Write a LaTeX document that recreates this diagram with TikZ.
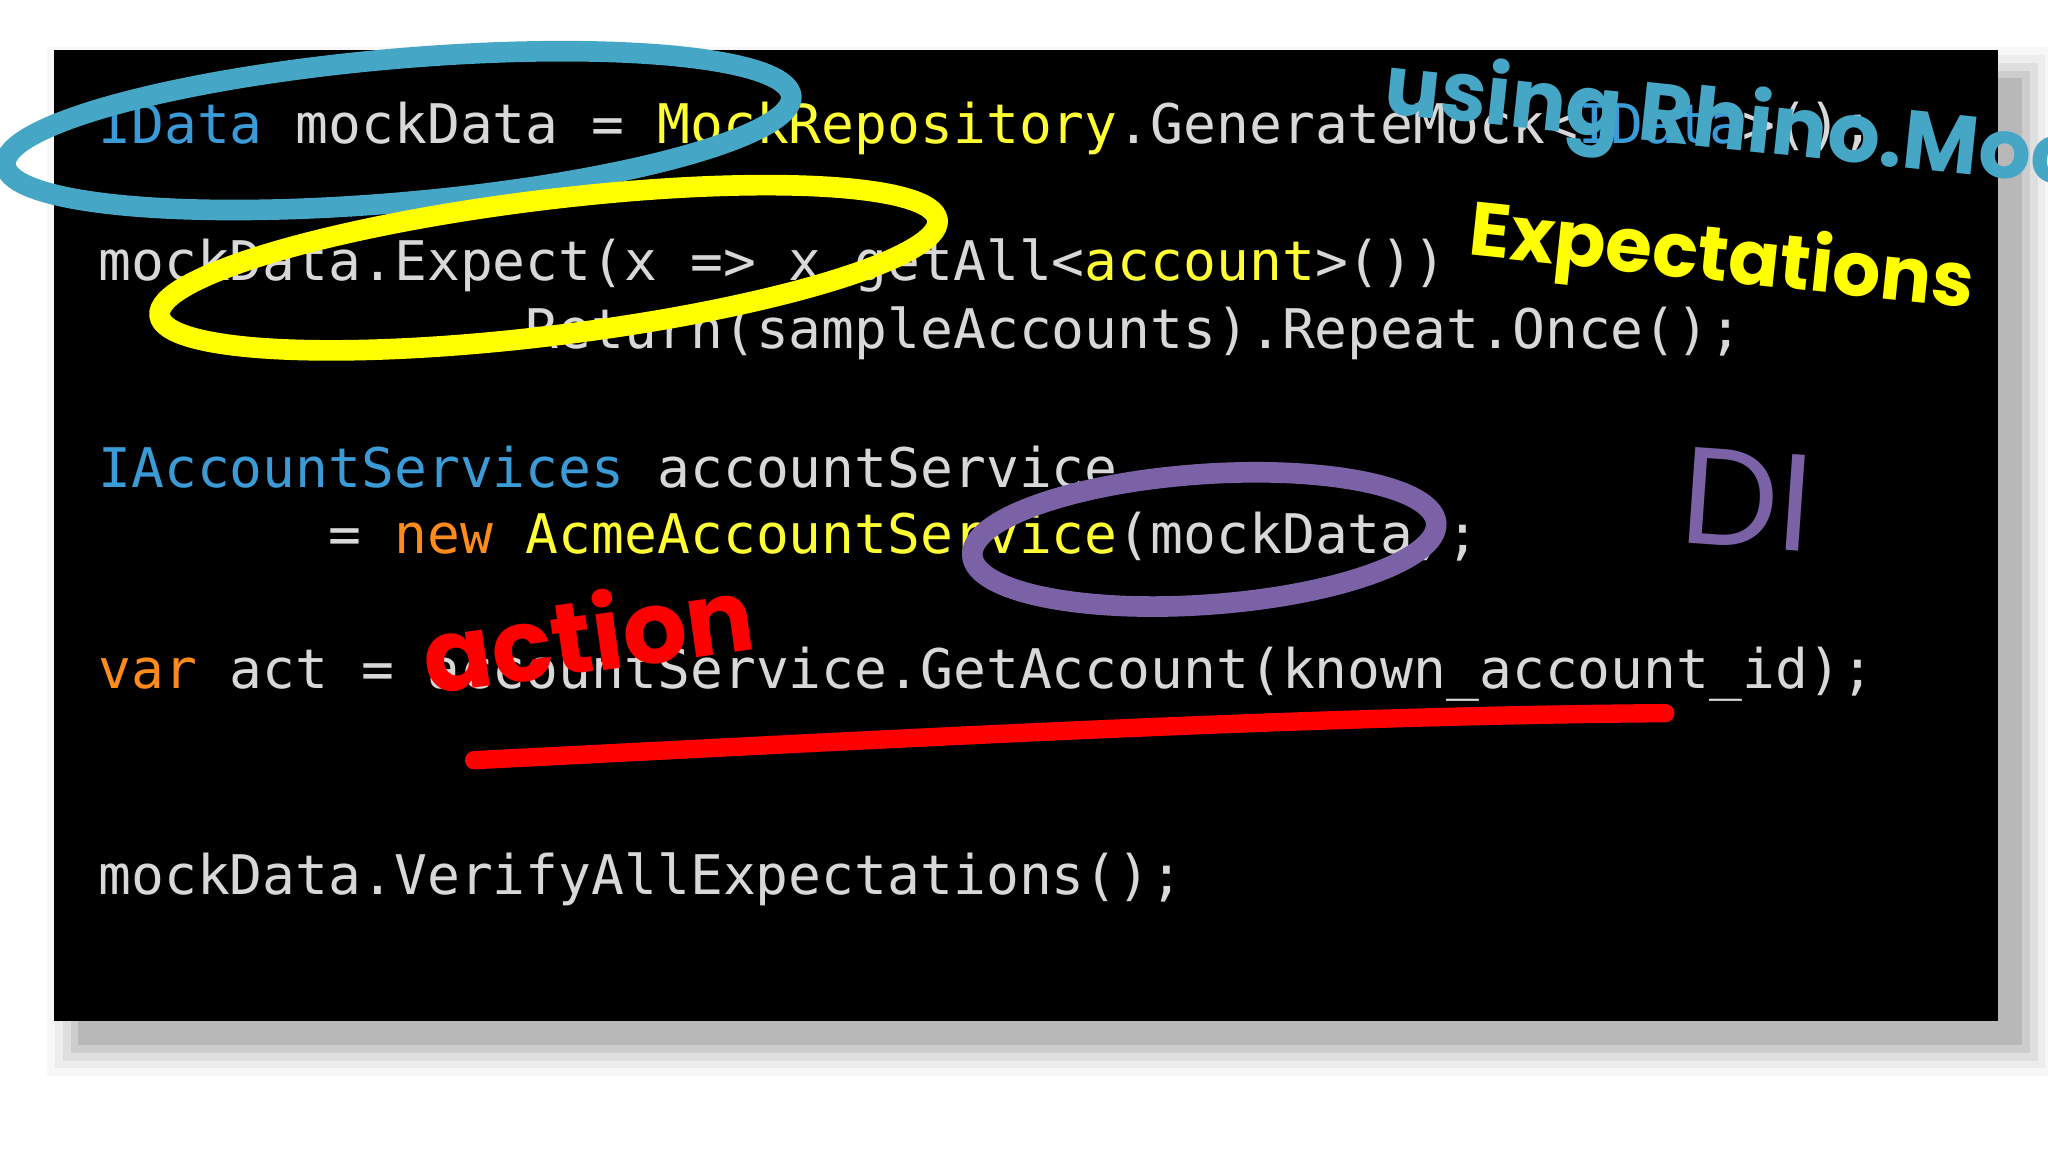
\documentclass[tikz,border=0pt]{standalone}
\usepackage{fontspec}
\setmonofont{DejaVu Sans Mono}
\newfontfamily\handfont{Poppins}
\begin{document}
\begin{tikzpicture}[x=0.02cm,y=-0.02cm,
  code/.style={anchor=west,inner sep=0pt,font=\ttfamily\fontsize{23.8}{26}\selectfont,text=codegray},
  hand/.style={inner sep=0pt,font=\handfont\fontsize{#1}{#1}\selectfont},
  inkline/.style={line width=9pt}]
\definecolor{codegray}{HTML}{D8D8D8}
\definecolor{kwblue}{HTML}{3A9BD6}
\definecolor{kwyel}{HTML}{FFFF33}
\definecolor{kworange}{HTML}{FF8C1A}
\definecolor{inkblue}{HTML}{45A6C6}
\definecolor{inkyel}{HTML}{FFFF00}
\definecolor{inkpurple}{HTML}{7B62A6}
\definecolor{inkred}{HTML}{FF0000}
\useasboundingbox (0,0) rectangle (1568,882);
\fill[white] (0,0) rectangle (1568,882);
% shadow
\foreach \d/\o in {24/0.03,18/0.04,12/0.06,6/0.08,0/0.1}
  \fill[black,opacity=\o] (60-\d,60-\d) rectangle (1548+\d,800+\d);
\fill[black] (41,38) rectangle (1530,782);
\begin{scope}
\clip (0,0) rectangle (1568,882);
% code
\node[code] (l1) at (75,98) {\textcolor{kwblue}{IData} mockData = \textcolor{kwyel}{MockRepository}.GenerateMock<\textcolor{kwblue}{IData}>();};
\node[code] (l2) at (75,203) {mockData.Expect(x => x.getAll<\textcolor{kwyel}{account}>())};
\node[code] (l3) at (75,255) {\phantom{123456789012}.Return(sampleAccounts).Repeat.Once();};
\node[code] (l4) at (75,358) {\textcolor{kwblue}{IAccountServices} accountService};
\node[code] (l5) at (75,411) {\phantom{1234567}= \textcolor{kworange}{new} \textcolor{kwyel}{AcmeAccountService}(mockData);};
\node[code] (l6) at (75,516) {\textcolor{kworange}{var} act =   accountService.GetAccount(known\_account\_id);};
\node[code] (l7) at (75,673) {mockData.VerifyAllExpectations();};
% annotations
\draw[inkblue,inkline] (305,100) ellipse[x radius=302,y radius=55,rotate=5];
\draw[inkyel,inkline] (420,205) ellipse[x radius=300,y radius=52,rotate=7];
\draw[inkpurple,inkline] (922,413) ellipse[x radius=178,y radius=50,rotate=4];
\coordinate (r1) at (363,582);
\coordinate (r2) at (1275,546);
\draw[inkred,line width=8pt,line cap=round] (r1) .. controls (700,565) and (1000,548) .. (r2);
\node[hand=36,text=inkblue,rotate=-6,anchor=west,font=\handfont\bfseries\fontsize{36}{36}\selectfont] (rhino) at (1060,70) {using Rhino.Mocks};
\node[hand=33,text=inkyel,rotate=-6,font=\handfont\bfseries\fontsize{33}{33}\selectfont] (exp) at (1318,200) {Expectations};
\node[hand=60,text=inkpurple,rotate=-4] (di) at (1338,382) {DI};
\node[hand=44,text=inkred,rotate=8,font=\handfont\bfseries\fontsize{44}{44}\selectfont] (act) at (450,484) {action};
\end{scope}
\end{tikzpicture}
\end{document}
